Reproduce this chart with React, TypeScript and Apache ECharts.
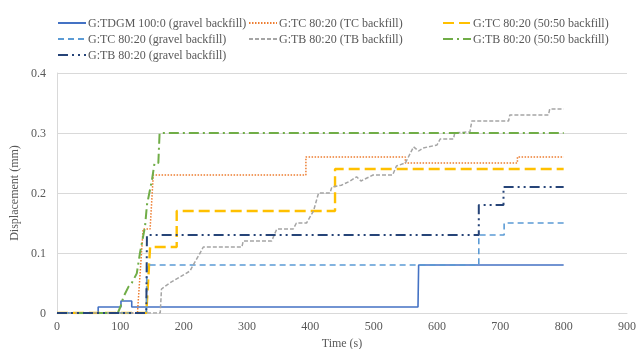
import React, { useEffect, useRef } from "react";
import * as echarts from "echarts";

// Displacement histories, [time (s), displacement (mm)]
const tdgmGravel: [number, number][] = [
  [0, 0], [65, 0], [65, 0.01], [101, 0.01], [101, 0.02], [118, 0.02], [118, 0.01],
  [570, 0.01], [571, 0.08], [800, 0.08],
];
const tcTc: [number, number][] = [
  [0, 0], [127, 0], [136, 0.14], [147, 0.14], [152, 0.23], [393, 0.23], [393, 0.26],
  [550, 0.26], [550, 0.25], [727, 0.25], [727, 0.26], [800, 0.26],
];
const tc5050: [number, number][] = [
  [0, 0], [141, 0], [147, 0.11], [189, 0.11], [189, 0.17], [439, 0.17], [439, 0.24], [800, 0.24],
];
const tcGravel: [number, number][] = [
  [0, 0], [141, 0], [142, 0.08], [666, 0.08], [666, 0.13], [706, 0.13], [706, 0.15], [800, 0.15],
];
const tbTb: [number, number][] = [
  [0, 0], [163, 0], [165, 0.04], [178, 0.05], [194, 0.06], [210, 0.07], [215, 0.08],
  [226, 0.1], [231, 0.11], [292, 0.11], [294, 0.12], [339, 0.12], [347, 0.14], [373, 0.14],
  [378, 0.15], [394, 0.15], [405, 0.17], [413, 0.2], [431, 0.2], [434, 0.21], [449, 0.213],
  [463, 0.22], [473, 0.227], [480, 0.22], [499, 0.23], [530, 0.23], [536, 0.245], [550, 0.25],
  [563, 0.277], [571, 0.27], [578, 0.275], [600, 0.28], [605, 0.29], [626, 0.29], [628, 0.3],
  [652, 0.302], [655, 0.32], [713, 0.32], [715, 0.33], [776, 0.33], [778, 0.34], [800, 0.34],
];
const tb5050: [number, number][] = [
  [0, 0], [96, 0], [100, 0.01], [105, 0.027], [113, 0.044], [118, 0.05], [126, 0.066],
  [131, 0.1], [139, 0.144], [142, 0.18], [150, 0.222], [154, 0.25], [160, 0.25], [162, 0.3],
  [800, 0.3],
];
const tbGravel: [number, number][] = [
  [0, 0], [141, 0], [142, 0.13], [666, 0.13], [666, 0.18], [705, 0.18], [705, 0.21], [800, 0.21],
];

const seriesNames = [
  "G:TDGM 100:0 (gravel backfill)",
  "G:TC 80:20 (TC backfill)",
  "G:TC 80:20 (50:50 backfill)",
  "G:TC 80:20 (gravel backfill)",
  "G:TB 80:20 (TB backfill)",
  "G:TB 80:20 (50:50 backfill)",
  "G:TB 80:20 (gravel backfill)",
];

const FONT = "'Liberation Serif', 'DejaVu Serif', serif";
const TEXT = "#595959";

export default function App() {
  const ref = useRef<HTMLDivElement>(null);

  useEffect(() => {
    if (!ref.current) return;
    const chart = echarts.init(ref.current, undefined, { renderer: "svg" });

    const mk = (
      name: string,
      data: [number, number][],
      color: string,
      width: number,
      type: any
    ) => ({
      name,
      type: "line",
      data,
      symbol: "none",
      showSymbol: false,
      color,
      lineStyle: { color, width, type },
    });

    const legendBase = {
      orient: "vertical" as const,
      itemWidth: 28,
      itemHeight: 14,
      itemGap: 4,
      padding: [5, 0, 5, 0],
      itemStyle: { opacity: 0 },
      textStyle: { fontFamily: FONT, fontSize: 12, color: TEXT, padding: [0, 0, 0, -3] },
      top: 12,
    };

    chart.setOption({
      animation: false,
      legend: [
        { ...legendBase, left: 57, data: [seriesNames[0], seriesNames[3], seriesNames[6]] },
        { ...legendBase, left: 248, data: [seriesNames[1], seriesNames[4]] },
        { ...legendBase, left: 442, data: [seriesNames[2], seriesNames[5]] },
      ],
      grid: { left: 57, right: 10, top: 73, bottom: 36, outerBoundsMode: "none", containLabel: false },
      xAxis: {
        type: "value",
        min: 0,
        max: 900,
        interval: 100,
        name: "Time (s)",
        nameLocation: "middle",
        nameGap: 23,
        nameTextStyle: { fontFamily: FONT, fontSize: 12, color: TEXT },
        axisLine: { show: true, lineStyle: { color: "#d9d9d9" } },
        axisTick: { show: false },
        splitLine: { show: false },
        axisLabel: { fontFamily: FONT, fontSize: 12, color: TEXT, margin: 7 },
      },
      yAxis: {
        type: "value",
        min: 0,
        max: 0.4,
        interval: 0.1,
        name: "Displacement (mm)",
        nameLocation: "middle",
        nameGap: 34,
        nameTextStyle: { fontFamily: FONT, fontSize: 12, color: TEXT },
        axisLine: { show: true, lineStyle: { color: "#d9d9d9" } },
        axisTick: { show: false },
        splitLine: { show: true, lineStyle: { color: "#d9d9d9" } },
        axisLabel: {
          fontFamily: FONT,
          fontSize: 12,
          color: TEXT,
          margin: 11,
          formatter: (v: number) => (v === 0 ? "0" : String(Math.round(v * 10) / 10)),
        },
      },
      series: [
        mk(seriesNames[0], tdgmGravel, "#4472C4", 1.6, "solid"),
        mk(seriesNames[1], tcTc, "#ED7D31", 1.5, [1.5, 1.5]),
        mk(seriesNames[2], tc5050, "#FFC000", 2.4, [11, 5]),
        mk(seriesNames[3], tcGravel, "#5B9BD5", 1.6, [6, 4]),
        mk(seriesNames[4], tbTb, "#A5A5A5", 1.5, [4, 2]),
        mk(seriesNames[5], tb5050, "#70AD47", 2, [10, 4, 2, 4]),
        mk(seriesNames[6], tbGravel, "#264478", 2, [10, 4, 2, 4, 2, 4]),
      ],
    });

    return () => chart.dispose();
  }, []);

  return (
    <div
      ref={ref}
      style={{ position: "fixed", left: 0, top: 0, width: 637, height: 349 }}
    />
  );
}
